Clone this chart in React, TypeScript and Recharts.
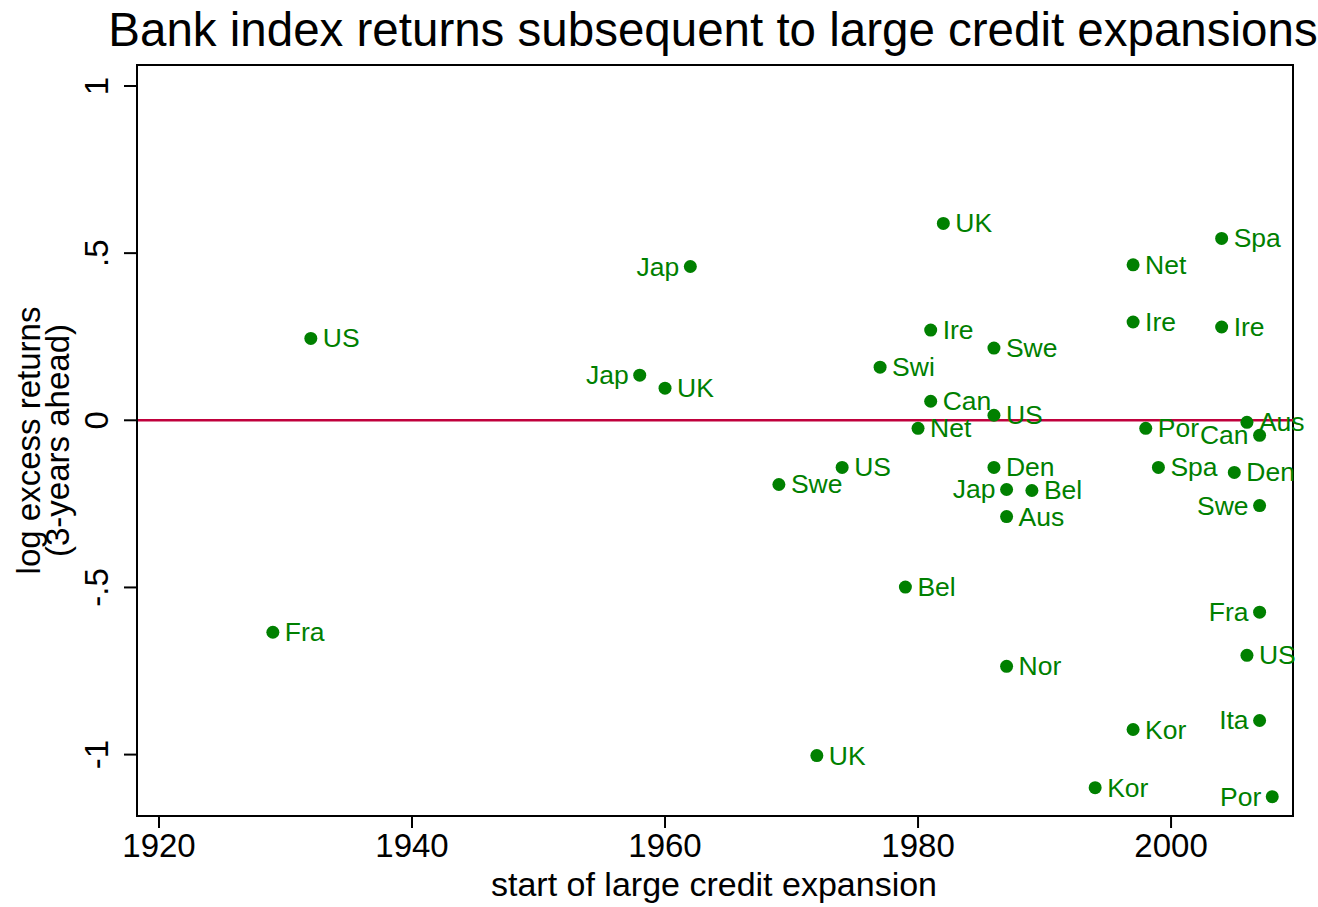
import React from 'react';
import { ScatterChart, Scatter, XAxis, YAxis, ReferenceLine, ReferenceArea, Label } from 'recharts';

const countries = ['US','Fra','Jap','Jap','UK','Swe','US','UK','Swi','Bel','Net','Ire','Can','UK','Swe','US','Den','Jap','Aus','Bel','Nor','Kor','Kor','Net','Ire','Por','Spa','Spa','Ire','Aus','Can','Den','Swe','Fra','US','Ita','Por'];
const startYears = [1932,1929,1962,1958,1960,1969,1974,1972,1977,1979,1980,1981,1981,1982,1986,1986,1986,1987,1987,1989,1987,1994,1997,1997,1997,1998,1999,2004,2004,2006,2007,2005,2007,2007,2006,2007,2008];
const excessReturns = [0.245,-0.634,0.46,0.135,0.096,-0.192,-0.141,-1.003,0.159,-0.499,-0.024,0.27,0.057,0.589,0.216,0.015,-0.141,-0.207,-0.288,-0.21,-0.736,-1.099,-0.925,0.465,0.294,-0.024,-0.141,0.544,0.279,-0.006,-0.045,-0.156,-0.255,-0.574,-0.703,-0.898,-1.126];
const leftLabeled = [2, 3, 17, 30, 32, 33, 35, 36];

const xTicks = [1920, 1940, 1960, 1980, 2000];
const yTicks = [-1, -0.5, 0, 0.5, 1];
const yTickLabels = ['-1', '-.5', '0', '.5', '1'];

const X_DOMAIN: [number, number] = [1918.26, 2009.64];
const Y_DOMAIN: [number, number] = [-1.1837, 1.0628];

const FONT = '"Liberation Sans", Arial, Helvetica, sans-serif';
const GREEN = '#008000';
const RED = '#C0003C';

const data = countries.map((c, i) => ({
  name: c,
  year: startYears[i],
  ret: excessReturns[i],
  left: leftLabeled.includes(i),
}));

const PointShape = (props: any) => {
  const { cx, cy, payload } = props;
  if (cx == null || cy == null) return null;
  const left = payload.left;
  return (
    <g>
      <circle cx={cx} cy={cy} r={6.5} fill={GREEN} />
      <text
        x={left ? cx - 11 : cx + 12}
        y={cy + 9}
        textAnchor={left ? 'end' : 'start'}
        fontFamily={FONT}
        fontSize={26.5}
        fill={GREEN}
      >
        {payload.name}
      </text>
    </g>
  );
};

const XTick = (props: any) => {
  const { x, y, payload } = props;
  return (
    <text x={x} y={y + 27} textAnchor="middle" fontFamily={FONT} fontSize={33} fill="#000">
      {payload.value}
    </text>
  );
};

const YTick = (props: any) => {
  const { x, y, payload } = props;
  const idx = yTicks.indexOf(payload.value);
  const lbl = idx >= 0 ? yTickLabels[idx] : String(payload.value);
  const bx = x - 14;
  return (
    <text
      x={bx}
      y={y}
      transform={`rotate(-90, ${bx}, ${y})`}
      textAnchor="middle"
      fontFamily={FONT}
      fontSize={33}
      fill="#000"
    >
      {lbl}
    </text>
  );
};

const YTitle = (props: any) => {
  const { viewBox } = props;
  const cy = viewBox.y + viewBox.height / 2;
  return (
    <g fontFamily={FONT} fontSize={33} fill="#000">
      <text x={40} y={cy} transform={`rotate(-90, 40, ${cy})`} textAnchor="middle">log excess returns</text>
      <text x={69} y={cy} transform={`rotate(-90, 69, ${cy})`} textAnchor="middle">(3-years ahead)</text>
    </g>
  );
};

const XTitle = (props: any) => {
  const { viewBox } = props;
  const cx = viewBox.x + viewBox.width / 2;
  return (
    <text x={cx - 1} y={896} textAnchor="middle" fontFamily={FONT} fontSize={34} fill="#000">
      start of large credit expansion
    </text>
  );
};

export default function App() {
  return (
    <div style={{ position: 'absolute', left: 0, top: 0, width: 1318, height: 907, background: '#fff' }}>
      <div
        style={{
          position: 'absolute',
          left: 713,
          top: 0,
          transform: 'translateX(-50%)',
          fontFamily: FONT,
          fontSize: 47.5,
          lineHeight: '60px',
          color: '#000',
          whiteSpace: 'nowrap',
        }}
      >
        Bank index returns subsequent to large credit expansions
      </div>
      <ScatterChart width={1318} height={907} margin={{ top: 65, right: 25, bottom: 0, left: 0 }}>
        <ReferenceLine y={0} stroke={RED} strokeWidth={2.5} />
        <XAxis
          type="number"
          dataKey="year"
          domain={X_DOMAIN}
          ticks={xTicks}
          height={91}
          tickSize={12}
          tickLine={{ stroke: '#000', strokeWidth: 2 }}
          axisLine={{ stroke: '#000', strokeWidth: 2 }}
          tick={<XTick />}
        >
          <Label content={<XTitle />} />
        </XAxis>
        <YAxis
          type="number"
          dataKey="ret"
          domain={Y_DOMAIN}
          ticks={yTicks}
          width={137}
          tickSize={13}
          tickLine={{ stroke: '#000', strokeWidth: 2 }}
          axisLine={{ stroke: '#000', strokeWidth: 2 }}
          tick={<YTick />}
        >
          <Label content={<YTitle />} />
        </YAxis>
        <ReferenceArea
          x1={X_DOMAIN[0]}
          x2={X_DOMAIN[1]}
          y1={Y_DOMAIN[0]}
          y2={Y_DOMAIN[1]}
          fill="none"
          fillOpacity={0}
          stroke="#000"
          strokeWidth={2}
        />
        <Scatter data={data} shape={<PointShape />} isAnimationActive={false} />
      </ScatterChart>
    </div>
  );
}
